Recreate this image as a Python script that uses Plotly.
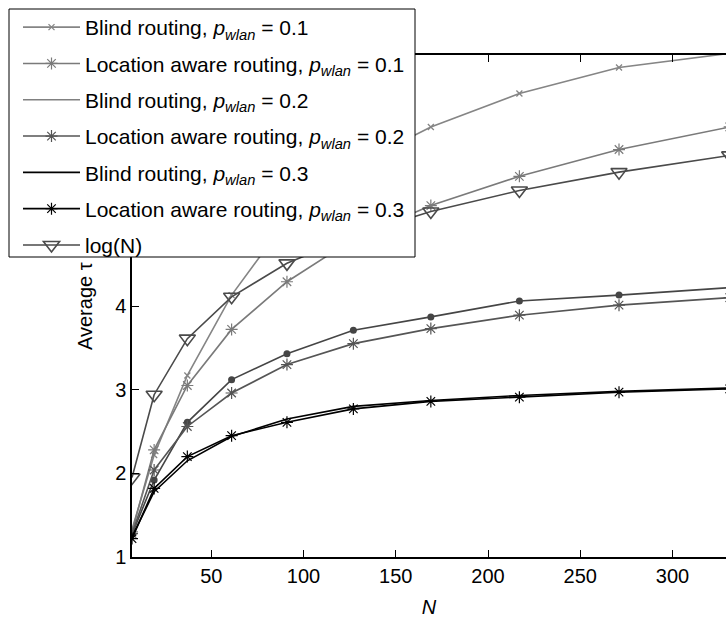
import plotly.graph_objects as go

# Network sizes (hexagonal cell counts)
N = [7, 19, 37, 61, 91, 127, 169, 217, 271, 331]

# Average tau per routing scheme and WLAN probability
blind_01 = [1.33, 2.22, 3.17, 4.13, 5.03, 5.67, 6.14, 6.54, 6.85, 7.02]
loc_01 = [1.30, 2.28, 3.05, 3.72, 4.29, 4.80, 5.20, 5.55, 5.87, 6.14]
blind_02 = [1.27, 1.92, 2.61, 3.12, 3.43, 3.71, 3.87, 4.06, 4.13, 4.22]
loc_02 = [1.28, 2.04, 2.56, 2.96, 3.30, 3.55, 3.73, 3.89, 4.01, 4.10]
blind_03 = [1.24, 1.78, 2.15, 2.44, 2.65, 2.80, 2.87, 2.93, 2.98, 3.02]
loc_03 = [1.22, 1.82, 2.20, 2.45, 2.61, 2.77, 2.86, 2.91, 2.97, 3.01]
log_n = [1.95, 2.94, 3.61, 4.11, 4.51, 4.84, 5.13, 5.38, 5.60, 5.80]

x_ticks = [50, 100, 150, 200, 250, 300]
y_ticks = [1, 2, 3, 4, 5, 6, 7]
# upper labels sit under the legend box
y_tick_text = ["1", "2", "3", "4", "", "", ""]

FONT = "Liberation Sans, Arial, Helvetica, sans-serif"

W, H = 726, 618
ML, MR, MT, MB = 132, 0, 55, 61
PW, PH = W - ML - MR, H - MT - MB


def px_x(px):
    return (px - ML) / PW


def px_y(py):
    return (H - MB - py) / PH


def label(scheme, p):
    return f"{scheme}, <i>p</i><sub><i>wlan</i></sub> = 0.{p}"


fig = go.Figure()


def add(y, name, color, symbol=None, msize=8, mline=1.2, show=True, width=1.6):
    mode = "lines+markers" if symbol else "lines"
    marker = None
    if symbol:
        filled = symbol == "circle"
        marker = dict(
            symbol=symbol,
            size=msize,
            color=color,
            line=dict(color=color, width=0 if filled else mline),
        )
    fig.add_trace(
        go.Scatter(
            x=N,
            y=y,
            name=name,
            mode=mode,
            line=dict(color=color, width=width),
            marker=marker,
            showlegend=show,
            legendgroup=name,
        )
    )


def legend_stub(name, color, width=1.6):
    fig.add_trace(
        go.Scatter(
            x=[None],
            y=[None],
            name=name,
            mode="lines",
            line=dict(color=color, width=width),
            legendgroup=name,
        )
    )


add(blind_01, label("Blind routing", 1), "#858585", "x-thin-open", 6, 1.3)
add(loc_01, label("Location aware routing", 1), "#7a7a7a", "asterisk-open", 10, 1.2)
add(blind_02, label("Blind routing", 2), "#454545", "circle", 7, show=False)
legend_stub(label("Blind routing", 2), "#808080")
add(loc_02, label("Location aware routing", 2), "#555555", "asterisk-open", 10, 1.2)
add(blind_03, label("Blind routing", 3), "#000000")
add(loc_03, label("Location aware routing", 3), "#000000", "asterisk-open", 10, 1.2)
add(log_n, "log(N)", "#4a4a4a", "triangle-down-open", 14, 1.6)

# Legend frame: a white box with a thin black border behind the legend entries
fig.add_shape(
    type="rect",
    xref="paper",
    yref="paper",
    x0=px_x(9),
    x1=px_x(415),
    y0=px_y(257),
    y1=px_y(9),
    fillcolor="white",
    line=dict(color="black", width=1),
    layer="above",
)

# y-axis title
fig.add_annotation(
    text="Average τ",
    xref="paper",
    yref="paper",
    x=px_x(85),
    y=px_y(306),
    xanchor="center",
    yanchor="middle",
    textangle=-90,
    showarrow=False,
    font=dict(family=FONT, size=20, color="black"),
)

fig.update_layout(
    width=W,
    height=H,
    margin=dict(l=ML, r=MR, t=MT, b=MB, autoexpand=False),
    paper_bgcolor="white",
    plot_bgcolor="white",
    font=dict(family=FONT, size=20, color="black"),
    showlegend=True,
    legend=dict(
        xref="container",
        yref="container",
        x=18 / W,
        y=1 - 7 / H,
        xanchor="left",
        yanchor="top",
        bgcolor="rgba(0,0,0,0)",
        borderwidth=0,
        font=dict(family=FONT, size=21, color="black"),
        itemwidth=57,
        tracegroupgap=6,
        traceorder="grouped",
    ),
    xaxis=dict(
        range=[7, 329],
        tickvals=x_ticks,
        ticks="inside",
        ticklen=7,
        tickcolor="black",
        showline=True,
        linecolor="black",
        linewidth=1.5,
        mirror="ticks",
        showgrid=False,
        zeroline=False,
        title=dict(text="<i>N</i>", font=dict(size=20), standoff=14),
    ),
    yaxis=dict(
        range=[1, 7],
        tickvals=y_ticks,
        ticktext=y_tick_text,
        ticks="inside",
        ticklen=7,
        tickcolor="black",
        showline=True,
        linecolor="black",
        linewidth=1.5,
        mirror=False,
        showgrid=False,
        zeroline=False,
    ),
)

fig.write_html("out.html")
